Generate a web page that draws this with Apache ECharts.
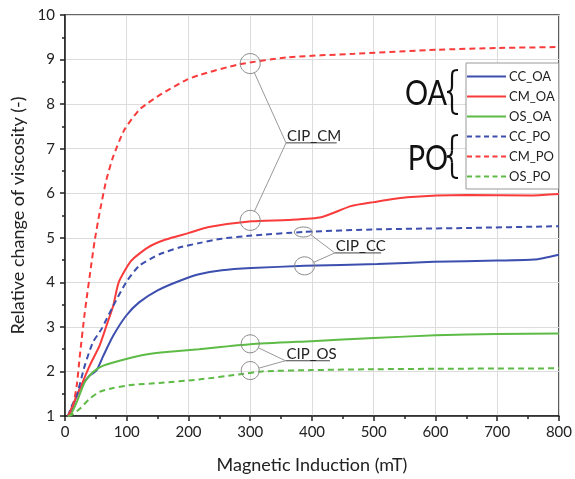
<!DOCTYPE html>
<html>
<head>
<meta charset="utf-8">
<script src="https://cdn.jsdelivr.net/npm/echarts@6/dist/echarts.min.js"></script>
<style>
  html, body { margin: 0; padding: 0; background: #fff; }
  #main { width: 575px; height: 479px; }
</style>
</head>
<body>
<div id="main"></div>
<script>
// values (x in mT, y relative viscosity)
var ccOaX = [5, 10, 24, 40, 51, 62, 78, 99, 120, 150, 185, 217, 254, 302, 388, 506, 597, 700, 760, 800];
var ccOaY = [1.0, 1.12, 1.61, 1.91, 2.02, 2.35, 2.80, 3.25, 3.55, 3.82, 4.03, 4.18, 4.27, 4.32, 4.37, 4.41, 4.46, 4.49, 4.51, 4.62];

var cmOaX = [5, 24, 40, 56, 67, 78, 87, 107, 134, 163, 201, 233, 302, 361, 415, 463, 500, 554, 651, 758, 800];
var cmOaY = [1.0, 1.61, 2.13, 2.58, 3.02, 3.47, 4.0, 4.48, 4.78, 4.96, 5.11, 5.24, 5.37, 5.40, 5.46, 5.71, 5.80, 5.91, 5.96, 5.95, 5.98];

var osOaX = [5, 10, 19, 32, 45, 62, 99, 131, 169, 217, 300, 399, 500, 600, 700, 800];
var osOaY = [1.0, 1.05, 1.31, 1.76, 1.98, 2.13, 2.28, 2.38, 2.44, 2.50, 2.61, 2.68, 2.75, 2.81, 2.84, 2.85];

var ccPoX = [5, 10, 19, 32, 45, 59, 78, 99, 120, 153, 185, 217, 254, 302, 386, 506, 651, 800];
var ccPoY = [1.0, 1.2, 1.46, 2.13, 2.65, 2.95, 3.47, 4.0, 4.37, 4.63, 4.78, 4.88, 4.98, 5.05, 5.13, 5.19, 5.22, 5.26];

var cmPoX = [5, 13, 19, 24, 32, 43, 48, 56, 67, 78, 96, 120, 134, 153, 196, 217, 281, 361, 468, 602, 700, 800];
var cmPoY = [1.0, 1.24, 1.68, 2.35, 3.32, 4.44, 4.93, 5.56, 6.3, 6.82, 7.42, 7.87, 8.02, 8.2, 8.54, 8.65, 8.89, 9.05, 9.13, 9.22, 9.26, 9.28];

var osPoX = [5, 10, 24, 40, 56, 78, 110, 153, 217, 281, 319, 399, 500, 602, 800];
var osPoY = [1.0, 1.02, 1.16, 1.39, 1.54, 1.63, 1.70, 1.74, 1.82, 1.93, 2.0, 2.03, 2.05, 2.06, 2.07];

var seriesNames = ['CC_OA', 'CM_OA', 'OS_OA', 'CC_PO', 'CM_PO', 'OS_PO'];
var xTicks = [0, 100, 200, 300, 400, 500, 600, 700, 800];
var yTicks = [1, 2, 3, 4, 5, 6, 7, 8, 9, 10];

var blue = '#3d4fae';
var red = '#f93b3b';
var green = '#5dbb46';
var font = 'Lato';

// legend icons: plain line / dashed line
var solidIcon = 'path://M0,0h39v2h-39z';
var dashIcon = 'path://M0,0h5v2h-5z M8.5,0h5v2h-5z M17,0h5v2h-5z M25.5,0h5v2h-5z M34,0h5v2h-5z';

function pairs(xs, ys) {
    return xs.map(function(x, i) { return [x, ys[i]]; });
}

function lineSeries(name, xs, ys, color, dashed) {
    return {
        name: name,
        type: 'line',
        data: pairs(xs, ys),
        symbol: 'none',
        smooth: 0.2,
        lineStyle: {
            color: color,
            width: 2,
            type: dashed ? [6, 4] : 'solid'
        },
        itemStyle: { color: color },
        z: 3
    };
}

var chart = echarts.init(document.getElementById('main'));

var option = {
    backgroundColor: '#fff',
    animation: false,
    textStyle: { fontFamily: font },
    grid: {
        left: 65,
        right: 12,
        top: 15,
        bottom: 62,
        show: true,
        borderColor: '#333',
        borderWidth: 1.5
    },
    legend: {
        orient: 'vertical',
        left: 466,
        top: 63,
        data: seriesNames.map(function(n) {
            return { name: n, icon: n.indexOf('_PO') > 0 ? dashIcon : solidIcon };
        }),
        itemWidth: 39,
        itemHeight: 2,
        symbolKeepAspect: false,
        itemGap: 5,
        padding: [6, 4, 5, 1],
        backgroundColor: '#fff',
        borderColor: '#999',
        borderWidth: 1,
        itemStyle: { borderWidth: 0 },
        lineStyle: { width: 0 },
        textStyle: { fontFamily: font, fontSize: 13, lineHeight: 15, color: '#222', padding: [0, 0, 0, -2] }
    },
    xAxis: {
        type: 'value',
        min: 0,
        max: 800,
        interval: 100,
        name: 'Magnetic Induction (mT)',
        nameLocation: 'middle',
        nameGap: 40,
        nameTextStyle: { fontFamily: font, fontSize: 18, color: '#222' },
        axisLine: { onZero: false, lineStyle: { color: '#222', width: 1.5 } },
        axisTick: { show: true, length: 5, lineStyle: { color: '#222', width: 1.5 } },
        minorTick: { show: true, splitNumber: 2, length: 3, lineStyle: { color: '#222', width: 1.5 } },
        axisLabel: {
            fontFamily: font, fontSize: 15, color: '#222', margin: 9,
            formatter: function(v) { return xTicks.indexOf(v) >= 0 ? String(v) : ''; }
        },
        splitLine: { show: true, lineStyle: { color: '#dcdcdc', width: 1 } }
    },
    yAxis: {
        type: 'value',
        min: 1,
        max: 10,
        interval: 1,
        name: 'Relative change of viscosity (-)',
        nameLocation: 'middle',
        nameGap: 34,
        nameTextStyle: { fontFamily: font, fontSize: 18, color: '#222' },
        axisLine: { onZero: false, lineStyle: { color: '#222', width: 1.5 } },
        axisTick: { show: true, length: 5, lineStyle: { color: '#222', width: 1.5 } },
        minorTick: { show: true, splitNumber: 2, length: 3, lineStyle: { color: '#222', width: 1.5 } },
        axisLabel: {
            fontFamily: font, fontSize: 15, color: '#222', margin: 10,
            formatter: function(v) { return yTicks.indexOf(v) >= 0 ? String(v) : ''; }
        },
        splitLine: { show: true, lineStyle: { color: '#dcdcdc', width: 1 } }
    },
    series: [
        lineSeries('CC_OA', ccOaX, ccOaY, blue, false),
        lineSeries('CM_OA', cmOaX, cmOaY, red, false),
        lineSeries('OS_OA', osOaX, osOaY, green, false),
        lineSeries('CC_PO', ccPoX, ccPoY, blue, true),
        lineSeries('CM_PO', cmPoX, cmPoY, red, true),
        lineSeries('OS_PO', osPoX, osPoY, green, true)
    ]
};
chart.setOption(option);

// callouts: circles on the curves, leader lines, underlined label
var notes = [
    { text: 'CIP_CM', at: [358, 7.13], end: [440, 7.13],
      rings: [{ c: [300, 8.91], rx: 10, ry: 10 }, { c: [300, 5.39], rx: 10, ry: 10 }] },
    { text: 'CIP_CC', at: [437, 4.66], end: [512, 4.66],
      rings: [{ c: [386, 5.13], rx: 9, ry: 5 }, { c: [388, 4.37], rx: 10, ry: 9 }] },
    { text: 'CIP_OS', at: [357, 2.24], end: [429, 2.24],
      rings: [{ c: [300, 2.62], rx: 9, ry: 9 }, { c: [300, 2.02], rx: 9, ry: 9 }] }
];

function px(p) {
    return chart.convertToPixel({ xAxisIndex: 0, yAxisIndex: 0 }, p);
}

var els = [];
notes.forEach(function(n) {
    var a = px(n.at);
    var b = px(n.end);
    els.push({ type: 'line', shape: { x1: a[0], y1: a[1], x2: b[0], y2: b[1] },
               style: { stroke: '#444', lineWidth: 1 }, z: 10 });
    els.push({ type: 'text', x: a[0] + 1, y: a[1] + 1,
               style: { text: n.text, fontFamily: font, fontSize: 15, fill: '#222',
                        align: 'left', verticalAlign: 'bottom' }, z: 10 });
    n.rings.forEach(function(r) {
        var c = px(r.c);
        var dx = a[0] - c[0], dy = a[1] - c[1];
        var t = Math.atan2(dy, dx);
        var sx = c[0] + r.rx * Math.cos(t), sy = c[1] + r.ry * Math.sin(t);
        els.push({ type: 'ellipse', shape: { cx: c[0], cy: c[1], rx: r.rx, ry: r.ry },
                   style: { fill: 'none', stroke: '#888', lineWidth: 1 }, z: 10 });
        els.push({ type: 'line', shape: { x1: sx, y1: sy, x2: a[0], y2: a[1] },
                   style: { stroke: '#999', lineWidth: 1 }, z: 10 });
    });
});

// curly brace from curves and straight pieces, top at y0, bottom at y1
function brace(x, y0, y1) {
    var m = (y0 + y1) / 2;
    var xm = x - 6, xt = x - 11;
    var st = { fill: 'none', stroke: '#111', lineWidth: 2.2 };
    var parts = [
        { x1: x, y1: y0, cpx1: xm, cpy1: y0, cpx2: xm, cpy2: y0 + 2, x2: xm, y2: y0 + 8 },
        { x1: xm, y1: m - 6, cpx1: xm, cpy1: m - 1, cpx2: xm - 2, cpy2: m, x2: xt, y2: m },
        { x1: xt, y1: m, cpx1: xm - 2, cpy1: m, cpx2: xm, cpy2: m + 1, x2: xm, y2: m + 6 },
        { x1: xm, y1: y1 - 8, cpx1: xm, cpy1: y1 - 2, cpx2: xm, cpy2: y1, x2: x, y2: y1 }
    ];
    parts.forEach(function(s) { els.push({ type: 'bezierCurve', shape: s, style: st, z: 10 }); });
    els.push({ type: 'line', shape: { x1: xm, y1: y0 + 8, x2: xm, y2: m - 6 }, style: st, z: 10 });
    els.push({ type: 'line', shape: { x1: xm, y1: m + 6, x2: xm, y2: y1 - 8 }, style: st, z: 10 });
}

// group labels next to the legend
els.push({ type: 'text', x: 426, y: 94, scaleX: 0.85,
           style: { text: 'OA', fontFamily: font, fontSize: 34, fill: '#111', align: 'center', verticalAlign: 'middle' }, z: 10 });
brace(458, 70, 114);
els.push({ type: 'text', x: 428, y: 159, scaleX: 0.85,
           style: { text: 'PO', fontFamily: font, fontSize: 34, fill: '#111', align: 'center', verticalAlign: 'middle' }, z: 10 });
brace(458, 135, 178);

chart.setOption({ graphic: { elements: els } });
</script>
</body>
</html>
